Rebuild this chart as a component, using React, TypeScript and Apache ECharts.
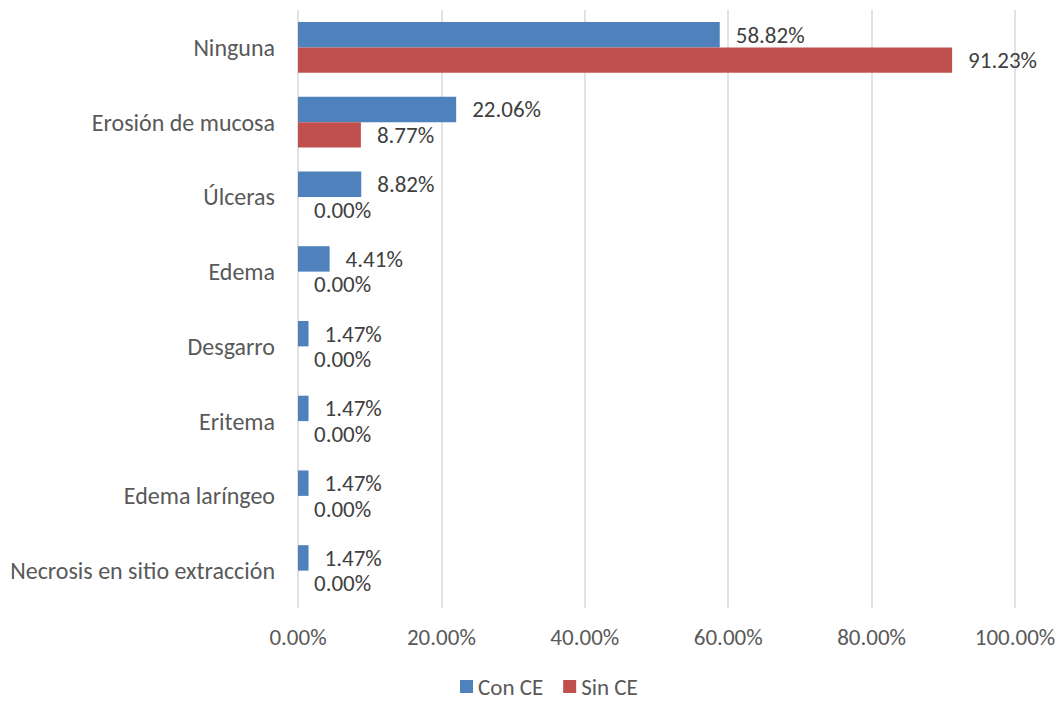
import React, { useEffect, useRef } from "react";
import * as echarts from "echarts";

const categories = [
  "Ninguna",
  "Erosión de mucosa",
  "Úlceras",
  "Edema",
  "Desgarro",
  "Eritema",
  "Edema laríngeo",
  "Necrosis en sitio extracción",
];
const conCE = [58.82, 22.06, 8.82, 4.41, 1.47, 1.47, 1.47, 1.47];
const sinCE = [91.23, 8.77, 0, 0, 0, 0, 0, 0];
const seriesNames = ["Con CE", "Sin CE"];
const colors = ["#4f81bd", "#c0504d"];

const FONT = "Carlito, Lato, 'Open Sans', sans-serif";

export default function App() {
  const ref = useRef<HTMLDivElement>(null);
  useEffect(() => {
    document.body.style.margin = "0";
    if (!ref.current) return;
    const chart = echarts.init(ref.current, undefined, { renderer: "svg" });
    const label = {
      show: true,
      position: "right" as const,
      distance: 16,
      color: "#404040",
      fontSize: 23,
      fontFamily: FONT,
      formatter: (p: any) => Number(p.value).toFixed(2) + "%",
    };
    chart.setOption({
      animation: false,
      textStyle: { fontFamily: FONT },
      grid: { left: 298, right: 45, top: 10, bottom: 95, containLabel: false },
      legend: {
        bottom: 0,
        left: 455,
        icon: "rect",
        itemWidth: 13,
        itemHeight: 13,
        itemGap: 20,
        itemTextGap: 5,
        textStyle: { color: "#595959", fontSize: 23, fontFamily: FONT },
        data: seriesNames,
      },
      xAxis: {
        type: "value",
        min: 0,
        max: 100,
        interval: 20,
        axisLine: { show: false },
        axisTick: { show: false },
        splitLine: { lineStyle: { color: "#d9d9d9", width: 1.5 } },
        axisLabel: {
          color: "#595959",
          fontSize: 23,
          fontFamily: FONT,
          margin: 17,
          formatter: (v: number) => v.toFixed(2) + "%",
        },
      },
      yAxis: {
        type: "category",
        inverse: true,
        data: categories,
        axisLine: { show: false },
        axisTick: { show: false },
        axisLabel: { color: "#595959", fontSize: 24, fontFamily: FONT, margin: 23 },
      },
      series: [
        {
          name: seriesNames[0],
          type: "bar",
          data: conCE,
          itemStyle: { color: colors[0] },
          barGap: "0%",
          barCategoryGap: "32%",
          label,
        },
        {
          name: seriesNames[1],
          type: "bar",
          data: sinCE,
          itemStyle: { color: colors[1] },
          barGap: "0%",
          barCategoryGap: "32%",
          label,
        },
      ],
    });
    return () => chart.dispose();
  }, []);
  return <div ref={ref} style={{ width: 1060, height: 703 }} />;
}
